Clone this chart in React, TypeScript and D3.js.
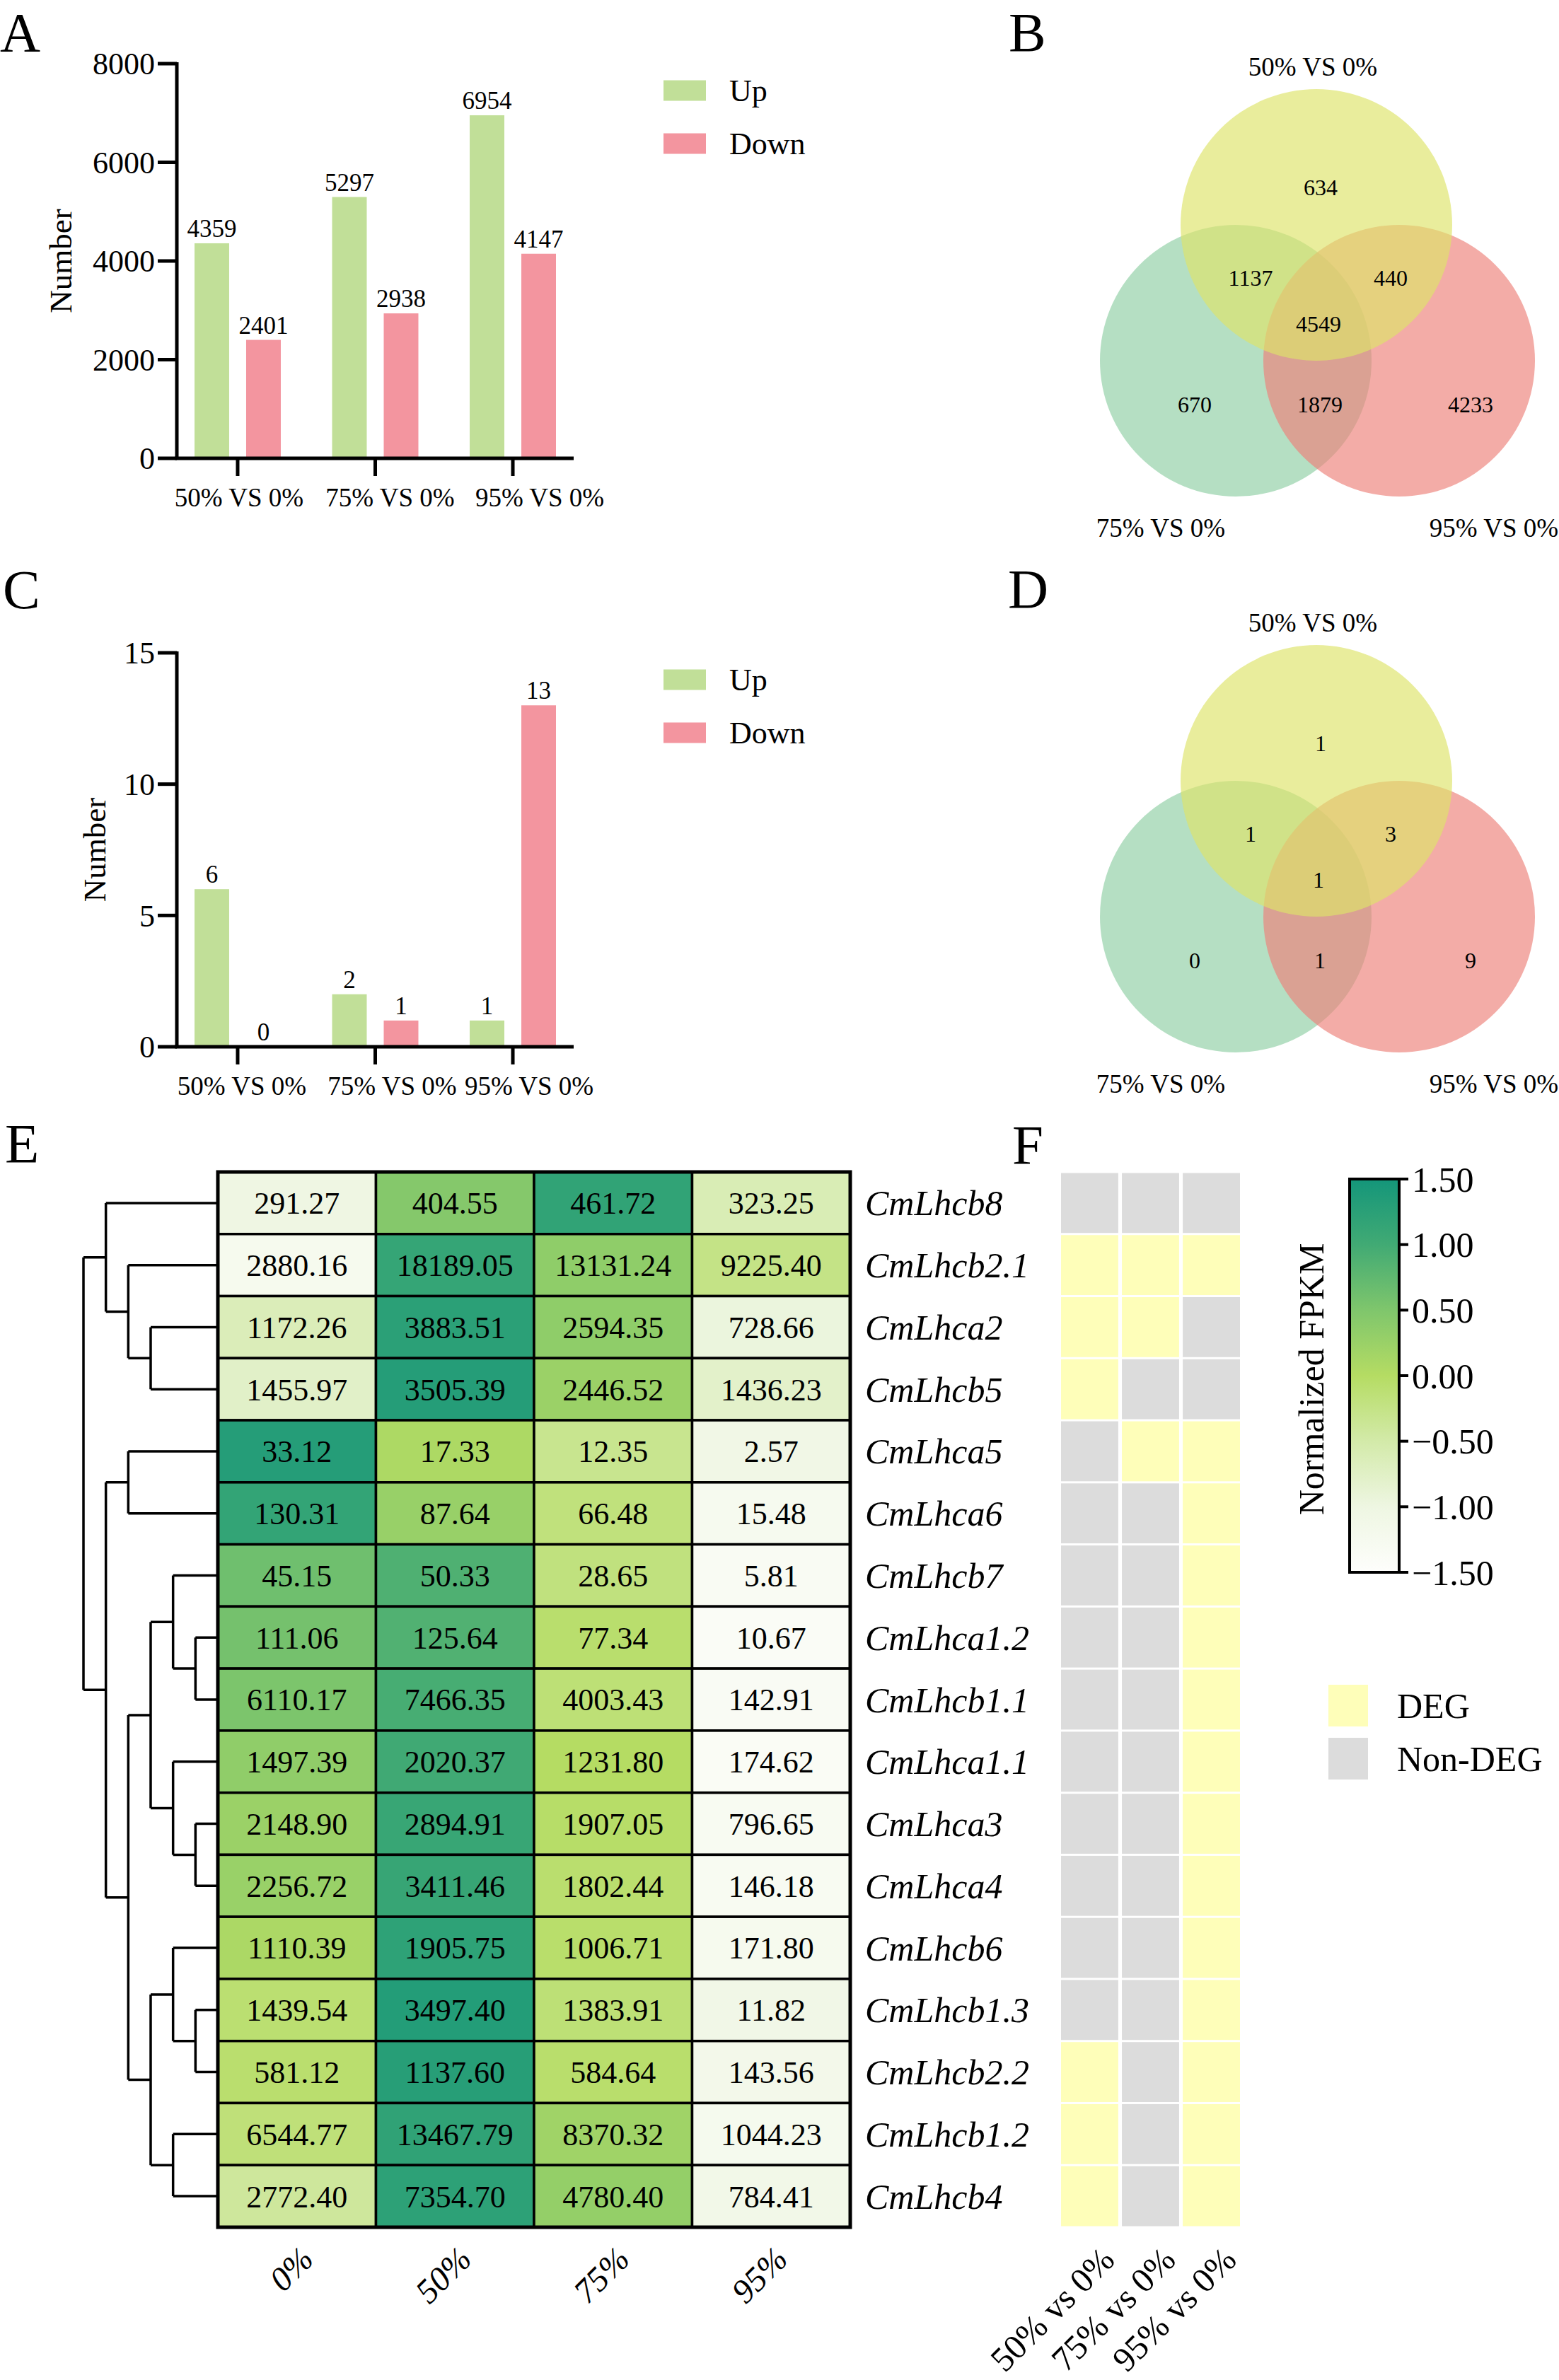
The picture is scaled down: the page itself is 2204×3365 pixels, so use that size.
import * as d3 from 'd3';

const FONT = '"Times New Roman", "Liberation Serif", serif';

// ---- panels A / C : DEG counts ----
const groups = ['50% VS 0%', '75% VS 0%', '95% VS 0%'];
const series = ['Up', 'Down'];
const degUp = [4359, 5297, 6954];
const degDown = [2401, 2938, 4147];
const degTicks = [0, 2000, 4000, 6000, 8000];
const lhcUp = [6, 2, 1];
const lhcDown = [0, 1, 13];
const lhcTicks = [0, 5, 10, 15];

// ---- panels B / D : venn ----
const vennSets = ['50% VS 0%', '75% VS 0%', '95% VS 0%'];
const vennRegions = ['50', '75', '95', '50-75', '50-95', '75-95', 'all'];
const vennDeg = [634, 670, 4233, 1137, 440, 1879, 4549];
const vennLhc = [1, 0, 9, 1, 3, 1, 1];

// ---- panel E : FPKM heatmap ----
const genes = [
  'CmLhcb8', 'CmLhcb2.1', 'CmLhca2', 'CmLhcb5', 'CmLhca5', 'CmLhca6', 'CmLhcb7', 'CmLhca1.2',
  'CmLhcb1.1', 'CmLhca1.1', 'CmLhca3', 'CmLhca4', 'CmLhcb6', 'CmLhcb1.3', 'CmLhcb2.2', 'CmLhcb1.2', 'CmLhcb4',
];
const conditions = ['0%', '50%', '75%', '95%'];
const fpkm = [
  [291.27, 404.55, 461.72, 323.25],
  [2880.16, 18189.05, 13131.24, 9225.4],
  [1172.26, 3883.51, 2594.35, 728.66],
  [1455.97, 3505.39, 2446.52, 1436.23],
  [33.12, 17.33, 12.35, 2.57],
  [130.31, 87.64, 66.48, 15.48],
  [45.15, 50.33, 28.65, 5.81],
  [111.06, 125.64, 77.34, 10.67],
  [6110.17, 7466.35, 4003.43, 142.91],
  [1497.39, 2020.37, 1231.8, 174.62],
  [2148.9, 2894.91, 1907.05, 796.65],
  [2256.72, 3411.46, 1802.44, 146.18],
  [1110.39, 1905.75, 1006.71, 171.8],
  [1439.54, 3497.4, 1383.91, 11.82],
  [581.12, 1137.6, 584.64, 143.56],
  [6544.77, 13467.79, 8370.32, 1044.23],
  [2772.4, 7354.7, 4780.4, 784.41],
];
// row clustering (leaf = gene index)
const tree = [[0, [1, [2, 3]]], [[4, 5], [[[6, [7, 8]], [9, [10, 11]]], [[12, [13, 14]], [15, 16]]]]];
const scaleTicks = [-1.5, -1, -0.5, 0, 0.5, 1, 1.5];
const scaleColors = ['#fefefc', '#eef6e2', '#d3eaa9', '#b5dc63', '#7fc66c', '#41aa74', '#14967a'];

// ---- panel F : DEG status ----
const comparisons = ['50% vs 0%', '75% vs 0%', '95% vs 0%'];
const degFlags = [
  [0, 0, 0], [1, 1, 1], [1, 1, 0], [1, 0, 0], [0, 1, 1], [0, 0, 1], [0, 0, 1], [0, 0, 1], [0, 0, 1],
  [0, 0, 1], [0, 0, 1], [0, 0, 1], [0, 0, 1], [0, 0, 1], [1, 0, 1], [1, 0, 1], [1, 0, 1],
];
const degKeys = ['DEG', 'Non-DEG'];

const AX = 250;

function BarPanel({ up, down, ticks, top, bottom, titleX, labelY, labelShift, legendY }: any) {
  const x = d3.scaleBand().domain(groups).range([275, 786]).paddingInner(0.373);
  const xs = d3.scaleBand().domain(series).range([0, x.bandwidth()]).paddingInner(0.329);
  const y = d3.scaleLinear().domain([0, d3.max(ticks) as number]).range([bottom, top]);
  const color = d3.scaleOrdinal<string, string>().domain(series).range(['#c1df98', '#f3959f']);
  const rows = groups.map((g, i) => ({ g, vals: [up[i], down[i]] }));
  return (
    <g fontFamily={FONT}>
      {rows.map((r) =>
        r.vals.map((v: number, j: number) => {
          const bx = (x(r.g) as number) + (xs(series[j]) as number);
          return (
            <g key={r.g + j}>
              <rect x={bx} y={y(v)} width={xs.bandwidth()} height={bottom - y(v)} fill={color(series[j])} />
              <text x={bx + xs.bandwidth() / 2} y={y(v) - 9} fontSize={35} textAnchor="middle">{v}</text>
            </g>
          );
        })
      )}
      <line x1={AX} x2={AX} y1={top - 2} y2={bottom} stroke="#000" strokeWidth={5} />
      <line x1={AX - 2.5} x2={811} y1={bottom} y2={bottom} stroke="#000" strokeWidth={5} />
      {ticks.map((t: number) => (
        <g key={t}>
          <line x1={AX - 27} x2={AX} y1={y(t)} y2={y(t)} stroke="#000" strokeWidth={5} />
          <text x={AX - 31} y={y(t)} dy="0.35em" fontSize={44} textAnchor="end">{t}</text>
        </g>
      ))}
      {groups.map((g, i) => {
        const cx = (x(g) as number) + x.bandwidth() / 2;
        return (
          <g key={g}>
            <line x1={cx} x2={cx} y1={bottom} y2={bottom + 25} stroke="#000" strokeWidth={5} />
            <text x={cx + labelShift[i]} y={labelY} fontSize={37} textAnchor="middle">{g}</text>
          </g>
        );
      })}
      <text transform={`translate(${titleX},${(top + bottom) / 2}) rotate(-90)`} dy="0.35em" fontSize={45} textAnchor="middle">
        Number
      </text>
      {series.map((s, i) => (
        <g key={s}>
          <rect x={938} y={legendY + i * 75 - 14.5} width={60} height={29} fill={color(s)} />
          <text x={1031} y={legendY + i * 75} dy="0.35em" fontSize={44}>{s}</text>
        </g>
      ))}
    </g>
  );
}

function Venn({ cx, cy, counts }: any) {
  const r = 192;
  const centers: Record<string, [number, number]> = { '50': [0, 0], '75': [-114, 192], '95': [117, 192] };
  const fills: Record<string, string> = { '50': '#dee469', '75': '#8fcea4', '95': '#ed817a' };
  const setLabel: Record<string, [number, number]> = { '50': [-5, -211], '75': [-220, 441], '95': [251, 441] };
  const regionPos: Record<string, [number, number]> = {
    '50': [6, -53], '75': [-172, 254], '95': [218, 254], '50-75': [-93, 75], '50-95': [105, 75], '75-95': [5, 254], all: [3, 140],
  };
  const keys = ['50', '75', '95'];
  return (
    <g fontFamily={FONT}>
      {['75', '95', '50'].map((k) => (
        <circle key={k} cx={cx + centers[k][0]} cy={cy + centers[k][1]} r={r} fill={fills[k]} fillOpacity={0.66} />
      ))}
      {keys.map((k, i) => (
        <text key={k} x={cx + setLabel[k][0]} y={cy + setLabel[k][1]} fontSize={37} textAnchor="middle">{vennSets[i]}</text>
      ))}
      {vennRegions.map((k, i) => (
        <text key={k} x={cx + regionPos[k][0]} y={cy + regionPos[k][1]} dy="0.35em" fontSize={32} textAnchor="middle">
          {counts[i]}
        </text>
      ))}
    </g>
  );
}

function Heatmap() {
  const x = d3.scaleBand().domain(conditions).range([308, 1202]);
  const y = d3.scaleBand().domain(genes).range([1657, 3149]);
  const color = d3.scaleLinear<string>().domain(scaleTicks).range(scaleColors).interpolate(d3.interpolateRgb).clamp(true);
  const fmt = d3.format('.2f');
  const cells = fpkm.flatMap((row, i) => {
    const m = d3.mean(row) as number;
    const sd = d3.deviation(row) as number;
    return row.map((v, j) => ({ gene: genes[i], cond: conditions[j], v, z: (v - m) / sd }));
  });

  // dendrogram, depth based
  const root: any = d3.hierarchy(tree as any, (d: any) => (Array.isArray(d) ? d : null));
  const maxDepth = d3.max(root.leaves(), (d: any) => d.depth) as number;
  const dx = d3.scaleLinear().domain([0, maxDepth]).range([118, 308]);
  root.eachAfter((n: any) => {
    if (!n.children) {
      n.px = 308;
      n.py = (y(genes[n.data]) as number) + y.bandwidth() / 2;
    } else {
      n.px = dx(n.depth);
      n.py = d3.mean(n.children, (c: any) => c.py);
    }
  });
  const branches: string[] = [];
  root.each((n: any) => {
    if (!n.children) return;
    const ys = n.children.map((c: any) => c.py);
    let p = `M${n.px},${d3.min(ys)}V${d3.max(ys)}`;
    n.children.forEach((c: any) => { p += `M${n.px},${c.py}H${c.px}`; });
    branches.push(p);
  });

  // DEG grid
  const fx = d3.scaleBand().domain(comparisons).range([1500, 1753]).paddingInner(0.06);
  const degColor = d3.scaleOrdinal<string, string>().domain(degKeys).range(['#fefeb9', '#dcdcdc']);

  // colour bar
  const cb = d3.scaleLinear().domain([-1.5, 1.5]).range([2223, 1667]);
  const cbFmt = d3.format('.2f');

  return (
    <g fontFamily={FONT}>
      <defs>
        <linearGradient id="cbar" x1="0" y1="1" x2="0" y2="0">
          {scaleTicks.map((t, i) => (
            <stop key={t} offset={i / (scaleTicks.length - 1)} stopColor={color(t)} />
          ))}
        </linearGradient>
      </defs>
      {branches.map((d, i) => (
        <path key={i} d={d} fill="none" stroke="#000" strokeWidth={3.5} />
      ))}
      {cells.map((c) => (
        <g key={c.gene + c.cond}>
          <rect x={x(c.cond)} y={y(c.gene)} width={x.bandwidth()} height={y.bandwidth()} fill={color(c.z)} stroke="#000" strokeWidth={3.5} />
          <text x={(x(c.cond) as number) + x.bandwidth() / 2} y={(y(c.gene) as number) + y.bandwidth() / 2} dy="0.35em" fontSize={44} textAnchor="middle">
            {fmt(c.v)}
          </text>
        </g>
      ))}
      <rect x={308} y={1657} width={894} height={1492} fill="none" stroke="#000" strokeWidth={5} />
      {genes.map((g) => (
        <text key={g} x={1223} y={(y(g) as number) + y.bandwidth() / 2} dy="0.35em" fontSize={50} fontStyle="italic">{g}</text>
      ))}
      {conditions.map((c) => (
        <text key={c} transform={`translate(${(x(c) as number) + x.bandwidth() / 2 + 26},3197) rotate(-45)`} fontSize={48} fontStyle="italic" textAnchor="end">
          {c}
        </text>
      ))}

      {degFlags.map((row, i) =>
        row.map((f, j) => (
          <rect key={i + '-' + j} x={fx(comparisons[j])} y={(y(genes[i]) as number) + 1.5} width={fx.bandwidth()} height={y.bandwidth() - 3}
            fill={degColor(f ? 'DEG' : 'Non-DEG')} />
        ))
      )}
      {comparisons.map((c) => (
        <text key={c} transform={`translate(${(fx(c) as number) + fx.bandwidth() / 2 + 38},3198) rotate(-45)`} fontSize={49} textAnchor="end">
          {c}
        </text>
      ))}

      <rect x={1908} y={1667} width={70} height={556} fill="url(#cbar)" stroke="#000" strokeWidth={4} />
      {scaleTicks.map((t) => (
        <g key={t}>
          <line x1={1978} x2={1991} y1={cb(t)} y2={cb(t)} stroke="#000" strokeWidth={4} />
          <text x={1996} y={cb(t)} dy="0.35em" fontSize={50}>{cbFmt(t)}</text>
        </g>
      ))}
      <text transform="translate(1853,1950) rotate(-90)" dy="0.35em" fontSize={50} textAnchor="middle">Normalized FPKM</text>
      {degKeys.map((k, i) => (
        <g key={k}>
          <rect x={1878} y={2382 + i * 75} width={56} height={59} fill={degColor(k)} />
          <text x={1975} y={2411 + i * 75} dy="0.35em" fontSize={50}>{k}</text>
        </g>
      ))}
    </g>
  );
}

export default function App() {
  const letters: [string, number, number][] = [
    ['A', 0, 72], ['B', 1426, 72], ['C', 4, 860], ['D', 1425, 859], ['E', 7, 1643], ['F', 1431, 1645],
  ];
  return (
    <>
      <style>{'body{margin:0;background:#fff}'}</style>
      <svg width={2204} height={3365} viewBox="0 0 2204 3365" style={{ display: 'block', background: '#fff' }}>
        {letters.map(([l, lx, ly]) => (
          <text key={l} x={lx} y={ly} fontFamily={FONT} fontSize={79}>{l}</text>
        ))}
        <BarPanel up={degUp} down={degDown} ticks={degTicks} top={90} bottom={648} titleX={85} labelY={716} labelShift={[2, 21, 38]} legendY={128} />
        <BarPanel up={lhcUp} down={lhcDown} ticks={lhcTicks} top={923} bottom={1480} titleX={133} labelY={1548} labelShift={[6, 24, 23]} legendY={961} />
        <Venn cx={1861} cy={318} counts={vennDeg} />
        <Venn cx={1861} cy={1104} counts={vennLhc} />
        <Heatmap />
      </svg>
    </>
  );
}
